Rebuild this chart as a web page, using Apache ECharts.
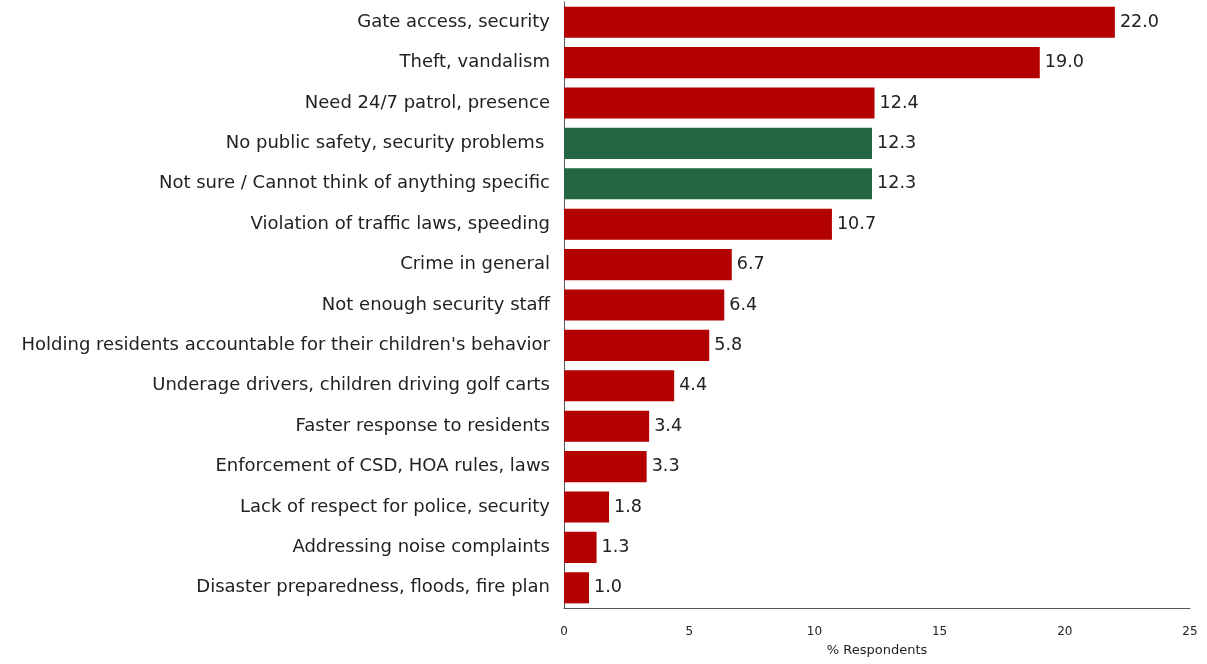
<!DOCTYPE html>
<html>
<head>
<meta charset="utf-8">
<script src="https://cdn.jsdelivr.net/npm/echarts@6/dist/echarts.min.js"></script>
<style>
  html, body { margin: 0; padding: 0; background: #fff; }
  #chart { width: 1207px; height: 664px; }
</style>
</head>
<body>
<div id="chart"></div>
<script>
// Public safety concerns, top to bottom
const categories = [
  "Gate access, security",
  "Theft, vandalism",
  "Need 24/7 patrol, presence",
  "No public safety, security problems ",
  "Not sure / Cannot think of anything specific",
  "Violation of traffic laws, speeding",
  "Crime in general",
  "Not enough security staff",
  "Holding residents accountable for their children's behavior",
  "Underage drivers, children driving golf carts",
  "Faster response to residents",
  "Enforcement of CSD, HOA rules, laws",
  "Lack of respect for police, security",
  "Addressing noise complaints",
  "Disaster preparedness, floods, fire plan"
];
const values = [22.0, 19.0, 12.4, 12.3, 12.3, 10.7, 6.7, 6.4, 5.8, 4.4, 3.4, 3.3, 1.8, 1.3, 1.0];
// Responses that name no specific concern
const neutral = [false, false, false, true, true, false, false, false, false, false, false, false, false, false, false];
const xTicks = [0, 5, 10, 15, 20, 25];

const RED = '#B30000';
const GREEN = '#236641';
const FONT = 'DejaVu Sans';

const chart = echarts.init(document.getElementById('chart'), null, { renderer: 'canvas' });
chart.setOption({
  animation: false,
  backgroundColor: '#fff',
  grid: { left: 564, right: 17, top: 2, bottom: 56, containLabel: false },
  xAxis: {
    type: 'value',
    min: xTicks[0],
    max: xTicks[xTicks.length - 1],
    interval: 5,
    name: '% Respondents',
    nameLocation: 'middle',
    nameGap: 36,
    nameTextStyle: { fontFamily: FONT, fontSize: 13, color: '#222' },
    axisLine: { show: true, lineStyle: { color: '#555', width: 1 } },
    axisTick: { show: false },
    splitLine: { show: false },
    axisLabel: { fontFamily: FONT, fontSize: 12, color: '#222', margin: 18 }
  },
  yAxis: {
    type: 'category',
    inverse: true,
    data: categories,
    axisLine: { show: true, lineStyle: { color: '#555', width: 1 } },
    axisTick: { show: false },
    axisLabel: { fontFamily: FONT, fontSize: 18, color: '#222', margin: 14, padding: [5, 0, 0, 0] }
  },
  series: [{
    type: 'bar',
    data: values.map((v, i) => ({ value: v, itemStyle: { color: neutral[i] ? GREEN : RED } })),
    barCategoryGap: '23%',
    label: {
      show: true,
      position: 'right',
      distance: 5,
      fontFamily: FONT,
      fontSize: 17.6,
      color: '#222',
      padding: [5, 0, 0, 0],
      formatter: p => p.value.toFixed(1)
    }
  }]
});
</script>
</body>
</html>
